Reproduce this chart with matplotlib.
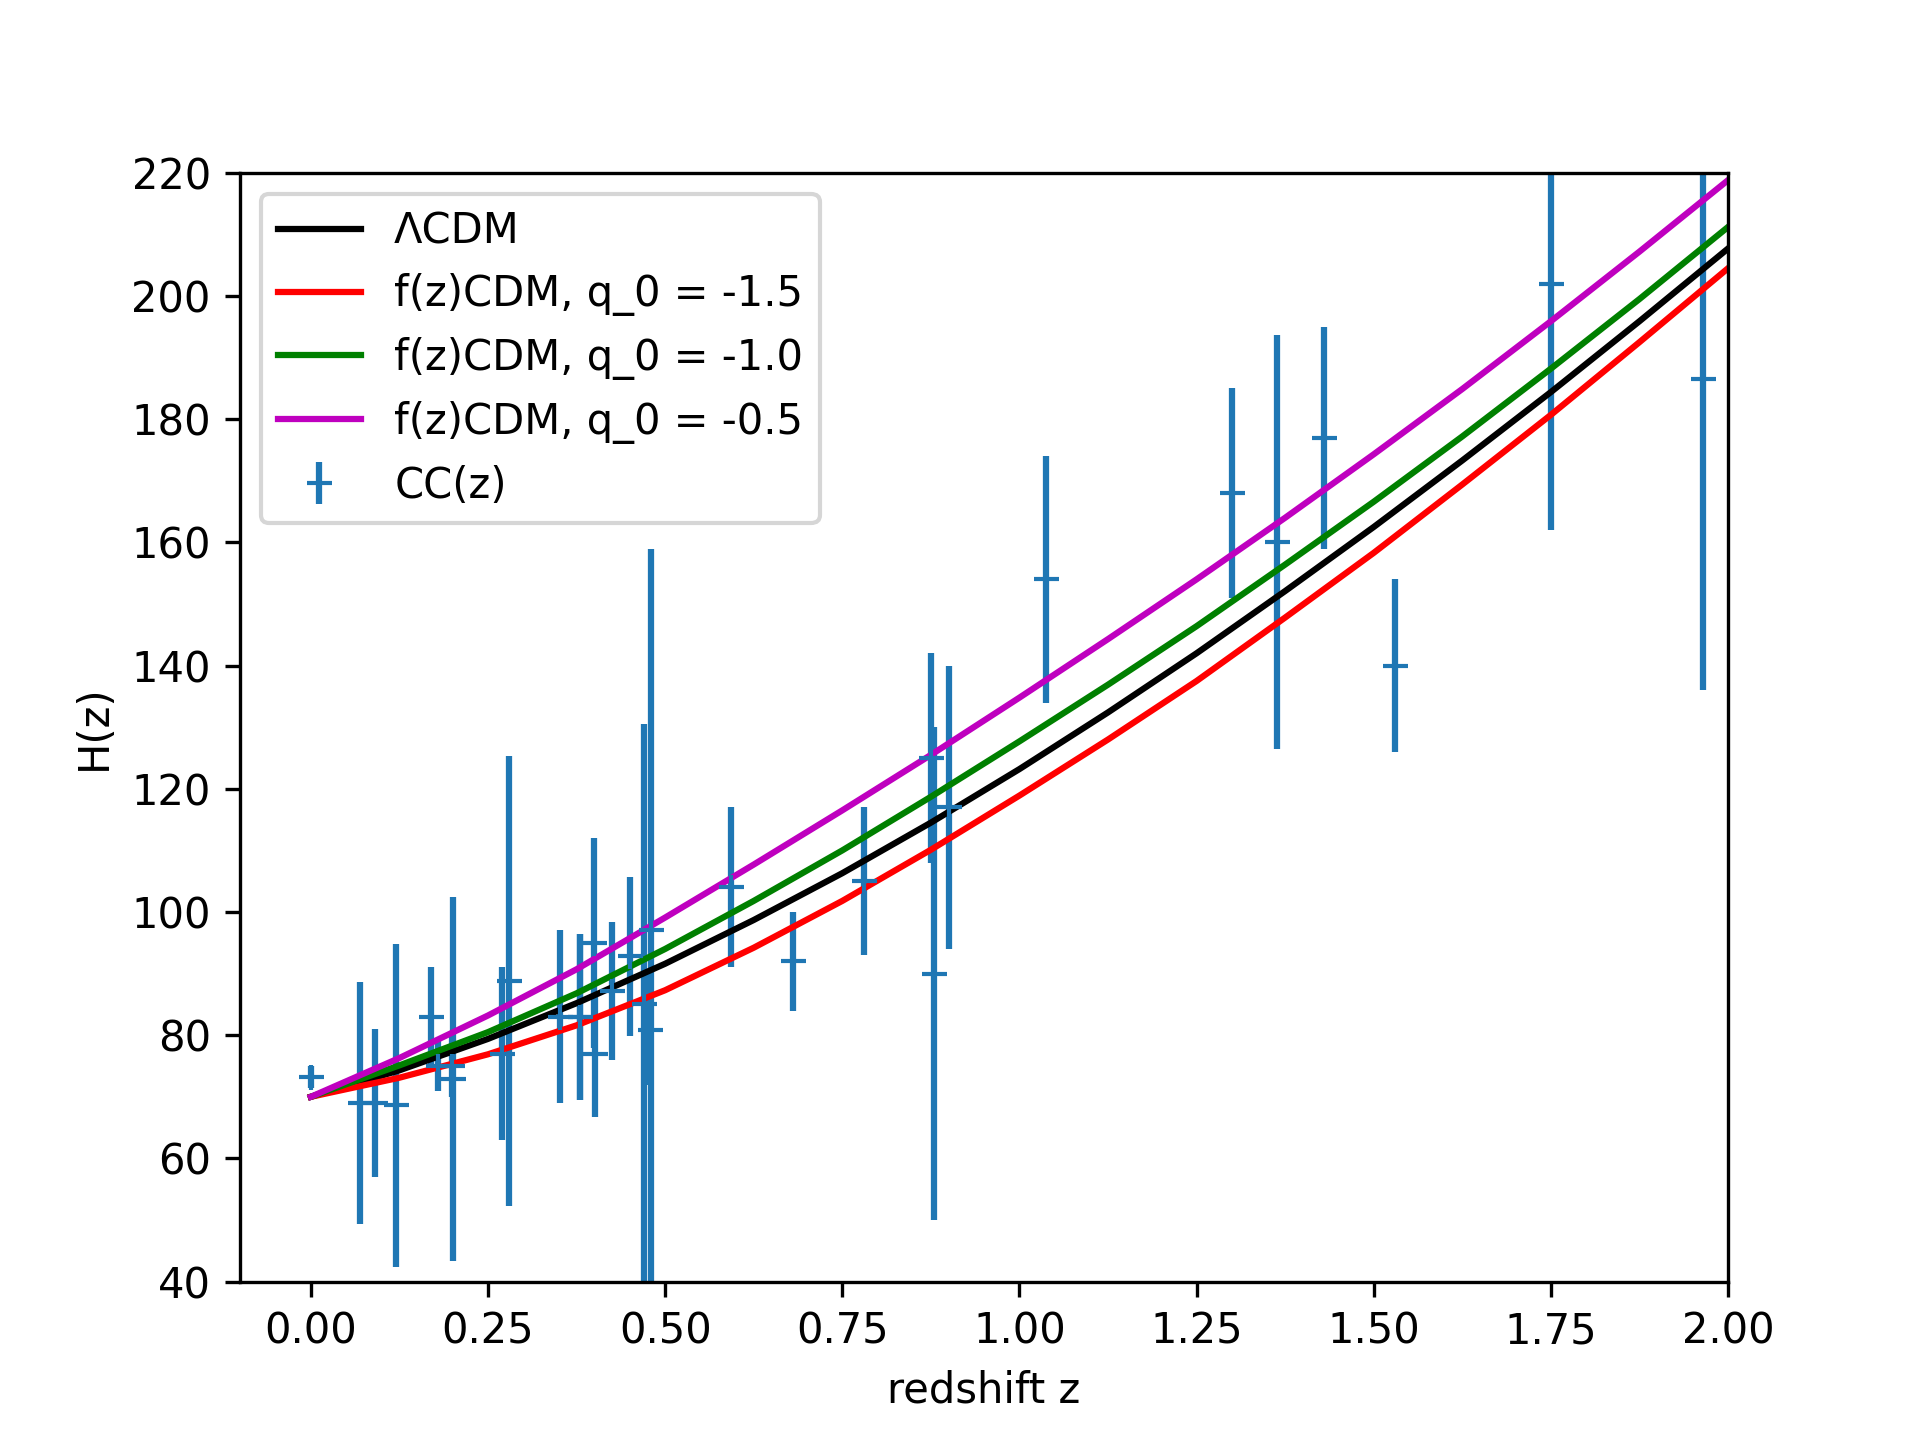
import numpy as np
import matplotlib.pyplot as plt

# cosmic chronometer data (z, H, sigma)
z_cc = [0.0, 0.07, 0.09, 0.12, 0.17, 0.179, 0.199, 0.2, 0.27, 0.28, 0.352,
        0.38, 0.3802, 0.4, 0.4004, 0.4247, 0.4497, 0.47, 0.4783, 0.48, 0.593,
        0.68, 0.781, 0.875, 0.88, 0.9, 1.037, 1.3, 1.363, 1.43, 1.53, 1.75, 1.965]
H_cc = [73.24, 69.0, 69.0, 68.6, 83.0, 75.0, 75.0, 72.9, 77.0, 88.8, 83.0,
        83.0, 83.0, 95.0, 77.0, 87.1, 92.8, 85.0, 80.9, 97.0, 104.0,
        92.0, 105.0, 125.0, 90.0, 117.0, 154.0, 168.0, 160.0, 177.0, 140.0, 202.0, 186.5]
err_cc = [1.74, 19.6, 12.0, 26.2, 8.0, 4.0, 5.0, 29.6, 14.0, 36.6, 14.0,
          13.5, 13.5, 17.0, 10.2, 11.2, 12.9, 45.5, 9.0, 62.0, 13.0,
          8.0, 12.0, 17.0, 40.0, 23.0, 20.0, 17.0, 33.6, 18.0, 14.0, 40.0, 50.4]

# model curves
z_model = [0.0, 0.125, 0.25, 0.375, 0.5, 0.625, 0.75, 0.875, 1.0,
           1.125, 1.25, 1.375, 1.5, 1.625, 1.75, 1.875, 2.0]
H_lcdm = [70.0, 74.3, 79.4, 85.2, 91.6, 98.7, 106.3, 114.5, 123.2,
          132.4, 142.0, 152.1, 162.5, 173.3, 184.4, 195.9, 207.7]
H_q15 = [70.0, 73.1, 76.9, 81.6, 87.3, 94.2, 101.8, 110.1, 118.9,
         128.0, 137.5, 147.8, 158.3, 169.4, 180.7, 192.5, 204.5]
H_q10 = [70.0, 75.1, 80.5, 86.8, 94.0, 101.8, 110.0, 118.7, 127.7,
         136.9, 146.4, 156.4, 166.6, 177.2, 188.2, 199.5, 211.2]
H_q05 = [70.0, 76.3, 83.2, 90.7, 99.1, 107.7, 116.5, 125.5, 134.8,
         144.3, 154.0, 164.0, 174.3, 184.9, 195.9, 207.2, 218.8]


def main():
    fig = plt.figure(figsize=(6.4, 4.8), dpi=300)
    ax = fig.add_subplot(111)

    ax.errorbar(z_cc, H_cc, yerr=err_cc, fmt='+', label='CC(z)')
    ax.plot(z_model, H_lcdm, 'k', label='\u039bCDM')
    ax.plot(z_model, H_q15, 'r', label='f(z)CDM, q_0 = -1.5')
    ax.plot(z_model, H_q10, 'g', label='f(z)CDM, q_0 = -1.0')
    ax.plot(z_model, H_q05, 'm', label='f(z)CDM, q_0 = -0.5')

    ax.set_xlim(-0.1, 2.0)
    ax.set_ylim(40, 220)
    ax.set_xlabel('redshift z')
    ax.set_ylabel('H(z)')
    ax.legend(loc='upper left')

    fig.savefig('out.png', dpi=300)


if __name__ == '__main__':
    main()
